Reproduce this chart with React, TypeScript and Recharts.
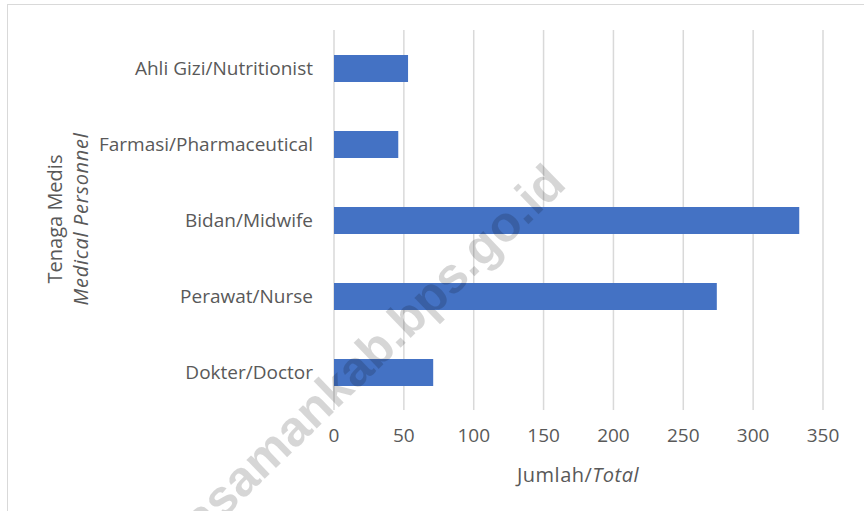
import React from "react";
import { BarChart, Bar, XAxis, YAxis, CartesianGrid } from "recharts";

// top-to-bottom order as shown in the chart
const categories = [
    "Ahli Gizi/Nutritionist",
    "Farmasi/Pharmaceutical",
    "Bidan/Midwife",
    "Perawat/Nurse",
    "Dokter/Doctor"
];
const totals = [53, 46, 333, 274, 71];
const xTicks = [0, 50, 100, 150, 200, 250, 300, 350];

const font = "'Open Sans', sans-serif";
const textColor = "#595959";

const W = 864;
const H = 511;

export default function App() {
    const data = categories.map((name, i) => ({ name, total: totals[i] }));

    return (
        <div style={{ position: "absolute", left: 0, top: 0, width: W, height: H, overflow: "hidden", background: "#fff" }}>
            {/* chart area border */}
            <div style={{ position: "absolute", left: 7, top: 4, width: 900, height: 600, border: "1px solid #d9d9d9" }} />
            <BarChart
                width={W}
                height={H}
                data={data}
                layout="vertical"
                margin={{ top: 30, right: 41, bottom: 71, left: 0 }}
                style={{ position: "absolute", left: 0, top: 0, fontFamily: font }}
            >
                <CartesianGrid horizontal={false} stroke="#d9d9d9" strokeWidth={1.5} />
                <XAxis
                    type="number"
                    domain={[0, 350]}
                    ticks={xTicks}
                    interval={0}
                    height={30}
                    axisLine={false}
                    tickLine={false}
                    tickSize={0}
                    tickMargin={19}
                    tick={{ fontSize: 19, fill: textColor, fontFamily: font }}
                    label={{
                        content: () => (
                            <text x={578} y={474} textAnchor="middle" dominantBaseline="central"
                                fontSize={20} fill={textColor} fontFamily={font} letterSpacing={0.5}>
                                Jumlah/<tspan fontStyle="italic">Total</tspan>
                            </text>
                        )
                    }}
                />
                <YAxis
                    type="category"
                    dataKey="name"
                    width={334}
                    axisLine={false}
                    tickLine={false}
                    tickSize={0}
                    tickMargin={21}
                    tick={{ fontSize: 19, fill: textColor, fontFamily: font }}
                    label={{
                        content: () => (
                            <g fontSize={20} fill={textColor} fontFamily={font}>
                                <text x={54} y={219} transform="rotate(-90 54 219)" textAnchor="middle" dominantBaseline="central">
                                    Tenaga Medis
                                </text>
                                <text x={80} y={219} transform="rotate(-90 80 219)" textAnchor="middle" dominantBaseline="central"
                                    fontStyle="italic" letterSpacing={0.7}>
                                    Medical Personnel
                                </text>
                            </g>
                        )
                    }}
                />
                <Bar dataKey="total" fill="#4472C4" barSize={27} isAnimationActive={false} />
            </BarChart>
            {/* watermark */}
            <svg width={W} height={H} style={{ position: "absolute", left: 0, top: 0, pointerEvents: "none" }}>
                <text
                    x={568}
                    y={186}
                    textAnchor="end"
                    transform="rotate(-44 568 186)"
                    fontFamily="'Liberation Sans', Arial, sans-serif"
                    fontWeight="bold"
                    fontSize={50}
                    fill="#000"
                    fillOpacity={0.16}
                >
                    pasamankab.bps.go.id
                </text>
            </svg>
        </div>
    );
}
